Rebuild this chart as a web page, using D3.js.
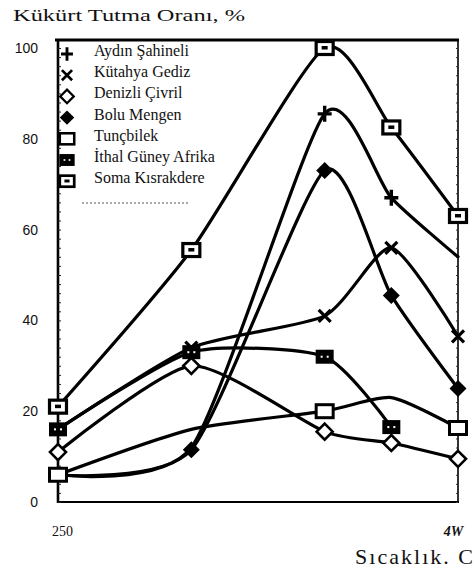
<!DOCTYPE html>
<html>
<head>
<meta charset="utf-8">
<script src="https://cdn.jsdelivr.net/npm/d3@7/dist/d3.min.js"></script>
<style>
  html, body { margin: 0; padding: 0; background: #fff; }
  svg { display: block; }
</style>
</head>
<body>
<svg id="chart" width="474" height="571"></svg>
<script>
// Sulphur retention (%) of coal samples versus temperature
const temps = [250, 300, 350, 375, 400];

const aydinSahineli   = [6, 12, 85.5, 67, 54];
const kutahyaGediz    = [16, 34, 41, 56, 36.5];
const denizliCivril   = [11, 30, 15.5, 13, 9.5];
const boluMengen      = [6, 11.5, 73, 45.5, 25];
const tuncbilek       = [6, 16, 20, 23, 16.3];
const ithalGuneyAfrika = [16, 33, 32, 16.5, null];
const somaKisrakdere  = [21, 55.5, 100, 82.5, 63];

const seriesNames = ["Aydın Şahineli", "Kütahya Gediz", "Denizli Çivril", "Bolu Mengen",
                     "Tunçbilek", "İthal Güney Afrika", "Soma Kısrakdere"];
const seriesValues = [aydinSahineli, kutahyaGediz, denizliCivril, boluMengen,
                      tuncbilek, ithalGuneyAfrika, somaKisrakdere];
const markerTypes = ["plus", "cross", "diamondOpen", "diamondFilled",
                     "squareOpen", "squareFilled", "squareDot"];
// temperatures at which a series carries no visible symbol
const unmarkedTemps = [[250, 300, 400], [250], [], [250], [300, 375], [], []];

const yTicks = [0, 20, 40, 60, 80, 100];
const xTickValues = [250, 400];
const xTickLabels = ["250", "4W"];

const svg = d3.select("#chart");
const x = d3.scaleLinear().domain([250, 400]).range([58, 458]);
const y = d3.scaleLinear().domain([0, 100]).range([502, 48]);
const frameTop = 40;

// title
svg.append("text")
  .attr("x", 13).attr("y", 21)
  .attr("textLength", 232).attr("lengthAdjust", "spacingAndGlyphs")
  .style("font-family", "'Liberation Serif', 'DejaVu Serif', serif")
  .style("font-size", "17px").style("fill", "#111")
  .text("Kükürt Tutma Oranı, %");

// frame
const frame = svg.append("g").attr("fill", "none").attr("stroke", "#000");
frame.append("line").attr("x1", 55).attr("x2", 459).attr("y1", frameTop).attr("y2", frameTop).attr("stroke-width", 3);
frame.append("line").attr("x1", 458).attr("x2", 458).attr("y1", frameTop).attr("y2", y(0)).attr("stroke-width", 1.6);
frame.append("line").attr("x1", 57).attr("x2", 459).attr("y1", y(0)).attr("y2", y(0)).attr("stroke-width", 2.2);
frame.append("line").attr("x1", 58).attr("x2", 58).attr("y1", frameTop).attr("y2", y(0) + 1).attr("stroke-width", 2.6);

// minor ticks on both vertical edges
const minor = d3.range(0, 101, 2);
svg.append("g").attr("transform", "translate(58,0)")
  .call(d3.axisRight(y).tickValues(minor).tickSize(3).tickFormat(""))
  .call(g => g.select(".domain").remove())
  .call(g => g.selectAll("line").attr("stroke", "#222").attr("stroke-width", 1));
svg.append("g").attr("transform", "translate(458,0)")
  .call(d3.axisLeft(y).tickValues(minor).tickSize(2).tickFormat(""))
  .call(g => g.select(".domain").remove())
  .call(g => g.selectAll("line").attr("stroke", "#333").attr("stroke-width", 1));

// y axis labels
svg.append("g").attr("transform", "translate(58,0)")
  .call(d3.axisLeft(y).tickValues(yTicks).tickSize(0).tickPadding(20))
  .call(g => g.select(".domain").remove())
  .call(g => g.selectAll("text")
    .style("font-family", "'Liberation Sans', Arial, sans-serif")
    .style("font-size", "14px").attr("fill", "#111"));

// x axis labels
svg.append("g").attr("transform", `translate(0,${y(0)})`)
  .call(d3.axisBottom(x).tickValues(xTickValues).tickSize(0).tickPadding(24)
    .tickFormat((d, i) => xTickLabels[i]))
  .call(g => g.select(".domain").remove())
  .call(g => g.selectAll("text")
    .style("font-family", "'Liberation Serif', 'Times New Roman', serif")
    .style("font-size", "14px").attr("fill", "#111")
    .attr("dx", (d, i) => i === 0 ? 4 : -5)
    .style("font-weight", (d, i) => i === 1 ? "bold" : "normal")
    .style("font-style", (d, i) => i === 1 ? "italic" : "normal"));

svg.append("text")
  .attr("x", 355).attr("y", 564)
  .attr("textLength", 118).attr("lengthAdjust", "spacing")
  .style("font-family", "'Liberation Serif', 'Times New Roman', serif")
  .style("font-size", "22px").style("fill", "#111")
  .text("Sıcaklık.  C");

// curves
const line = d3.line()
  .defined(d => d.v != null)
  .x(d => x(d.t)).y(d => y(d.v))
  .curve(d3.curveCardinal.tension(0.35));

const series = seriesNames.map((name, i) => ({
  name, type: markerTypes[i],
  points: temps.map((t, j) => ({ t, v: seriesValues[i][j], bare: unmarkedTemps[i].includes(t) }))
}));

const lines = svg.append("g");
series.forEach(s => {
  lines.append("path")
    .attr("d", line(s.points))
    .attr("fill", "none").attr("stroke", "#000")
    .attr("stroke-width", 3.2)
    .attr("stroke-linejoin", "round").attr("stroke-linecap", "round");
});

// symbols
function drawMarker(g, type, cx, cy, k) {
  const m = g.append("g").attr("transform", `translate(${cx},${cy}) scale(${k})`);
  if (type === "plus") {
    m.append("path").attr("d", "M-7,0H7M0,-8V8").attr("stroke", "#000").attr("stroke-width", 3.4).attr("fill", "none");
  } else if (type === "cross") {
    m.append("path").attr("d", "M-6,-6L6,6M-6,6L6,-6").attr("stroke", "#000").attr("stroke-width", 3.2).attr("fill", "none");
  } else if (type === "diamondOpen") {
    m.append("path").attr("d", "M0,-8L8,0L0,8L-8,0Z").attr("fill", "#fff").attr("stroke", "#000").attr("stroke-width", 2.6);
  } else if (type === "diamondFilled") {
    m.append("path").attr("d", "M0,-8.5L8.5,0L0,8.5L-8.5,0Z").attr("fill", "#000");
  } else if (type === "squareOpen") {
    m.append("rect").attr("x", -8.5).attr("y", -6.5).attr("width", 17).attr("height", 13)
      .attr("fill", "#fff").attr("stroke", "#000").attr("stroke-width", 3);
  } else if (type === "squareFilled") {
    m.append("rect").attr("x", -9).attr("y", -7).attr("width", 18).attr("height", 14).attr("fill", "#000");
    m.append("rect").attr("x", -4).attr("y", -1).attr("width", 2).attr("height", 2).attr("fill", "#fff");
    m.append("rect").attr("x", 2).attr("y", -1).attr("width", 2).attr("height", 2).attr("fill", "#fff");
  } else if (type === "squareDot") {
    m.append("rect").attr("x", -8.5).attr("y", -6.5).attr("width", 17).attr("height", 13)
      .attr("fill", "#fff").attr("stroke", "#000").attr("stroke-width", 3.2);
    m.append("rect").attr("x", -3).attr("y", -2).attr("width", 6).attr("height", 3.5).attr("fill", "#000");
  }
}

const marks = svg.append("g");
series.forEach(s => {
  s.points.filter(p => p.v != null && !p.bare)
    .forEach(p => drawMarker(marks, s.type, x(p.t), y(p.v), 1));
});

// legend
const legend = svg.append("g");
seriesNames.forEach((name, i) => {
  const rowY = 51 + i * 21.2;
  drawMarker(legend, markerTypes[i], 67, rowY + 3, 0.85);
  legend.append("text")
    .attr("x", 94).attr("y", rowY + 5)
    .style("font-family", "'Liberation Serif', 'Times New Roman', serif")
    .style("font-size", "16px").style("fill", "#111")
    .text(name);
});
legend.append("line")
  .attr("x1", 82).attr("x2", 188).attr("y1", 203).attr("y2", 203)
  .attr("stroke", "#555").attr("stroke-width", 1).attr("stroke-dasharray", "2,2");
</script>
</body>
</html>
